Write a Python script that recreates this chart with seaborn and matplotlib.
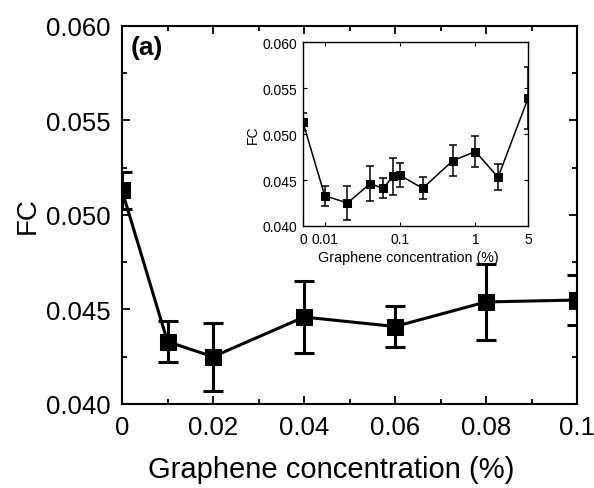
import matplotlib
matplotlib.use("Agg")
import matplotlib.pyplot as plt
import numpy as np
import pandas as pd
import seaborn as sns
from matplotlib.ticker import MultipleLocator, FixedLocator

# concentration (%), friction coefficient and error
conc = [0, 0.01, 0.02, 0.04, 0.06, 0.08, 0.1, 0.2, 0.5, 1, 2, 5]
fc = [0.0513, 0.0433, 0.0425, 0.0446, 0.0441, 0.0454, 0.0455, 0.0441, 0.0471, 0.0481, 0.0453, 0.0539]
fc_err = [0.0010, 0.0011, 0.0018, 0.0019, 0.0011, 0.0020, 0.0013, 0.0012, 0.0017, 0.0017, 0.0014, 0.0034]

main_xticks = [0, 0.02, 0.04, 0.06, 0.08, 0.1]
main_xlabels = ["0", "0.02", "0.04", "0.06", "0.08", "0.1"]
inset_xticks = [0, 0.01, 0.1, 1, 5]
inset_xlabels = ["0", "0.01", "0.1", "1", "5"]
yticks = [0.040, 0.045, 0.050, 0.055, 0.060]

df = pd.DataFrame({"conc": conc, "fc": fc, "err": fc_err})
df_main = df[df["conc"] <= 0.1]

sns.set_style("ticks")
plt.rcParams["font.family"] = ["Liberation Sans", "DejaVu Sans"]
plt.rcParams["text.color"] = "black"
plt.rcParams["axes.labelcolor"] = "black"
plt.rcParams["xtick.color"] = "black"
plt.rcParams["ytick.color"] = "black"

fig = plt.figure(figsize=(5.94, 4.89), dpi=100)
ax = fig.add_axes([0.2054, 0.1718, 0.766, 0.773])

ax.errorbar(df_main["conc"], df_main["fc"], yerr=df_main["err"], fmt="none",
            ecolor="black", elinewidth=2.2, capsize=7, capthick=2.2, zorder=2)
sns.lineplot(data=df_main, x="conc", y="fc", ax=ax, color="black", lw=2.2,
             marker="s", markersize=11, markeredgecolor="black", zorder=3)
ax.set_xlim(0, 0.1)
ax.set_ylim(0.040, 0.060)
ax.set_xticks(main_xticks)
ax.set_xticklabels(main_xlabels)
ax.set_yticks(yticks)
ax.set_yticklabels([f"{v:.3f}" for v in yticks])
ax.xaxis.set_minor_locator(MultipleLocator(0.01))
ax.yaxis.set_minor_locator(MultipleLocator(0.0025))
ax.tick_params(which="both", direction="in", top=True, right=True, labelsize=18.5, width=1.3)
ax.tick_params(which="major", length=6, pad=8)
ax.tick_params(which="minor", length=3.5)
for s in ax.spines.values():
    s.set_linewidth(1.5)
    s.set_color("black")
ax.set_xlabel("Graphene concentration (%)", fontsize=21)
ax.xaxis.set_label_coords(0.46, -0.135)
ax.set_ylabel("FC", fontsize=20, labelpad=4)
ax.text(0.02, 0.975, "(a)", transform=ax.transAxes, fontsize=19, fontweight="bold",
        va="top", ha="left")

# inset with full range
ins = fig.add_axes([0.510, 0.5358, 0.379, 0.376])
ins.set_xscale("symlog", linthresh=0.01, linscale=0.26)
ins.errorbar(df["conc"], df["fc"], yerr=df["err"], fmt="none",
             ecolor="black", elinewidth=1.1, capsize=3, capthick=1.1, zorder=2)
sns.lineplot(data=df, x="conc", y="fc", ax=ins, color="black", lw=1.1,
             marker="s", markersize=5.5, markeredgecolor="black", zorder=3)
ins.set_xlim(0, 5)
ins.set_ylim(0.040, 0.060)
ins.xaxis.set_major_locator(FixedLocator(inset_xticks))
ins.set_xticklabels(inset_xlabels)
ins.xaxis.set_minor_locator(FixedLocator([]))
ins.set_yticks(yticks)
ins.set_yticklabels([f"{v:.3f}" for v in yticks])
ins.tick_params(which="both", direction="in", top=True, right=True, labelsize=10,
                length=3, width=0.8, pad=4)
for s in ins.spines.values():
    s.set_linewidth(1.0)
    s.set_color("black")
ins.set_xlabel("Graphene concentration (%)", fontsize=10.3, labelpad=2)
ins.xaxis.set_label_coords(0.47, -0.13)
ins.set_ylabel("FC", fontsize=10, labelpad=2)

fig.savefig("out.png", dpi=100)
